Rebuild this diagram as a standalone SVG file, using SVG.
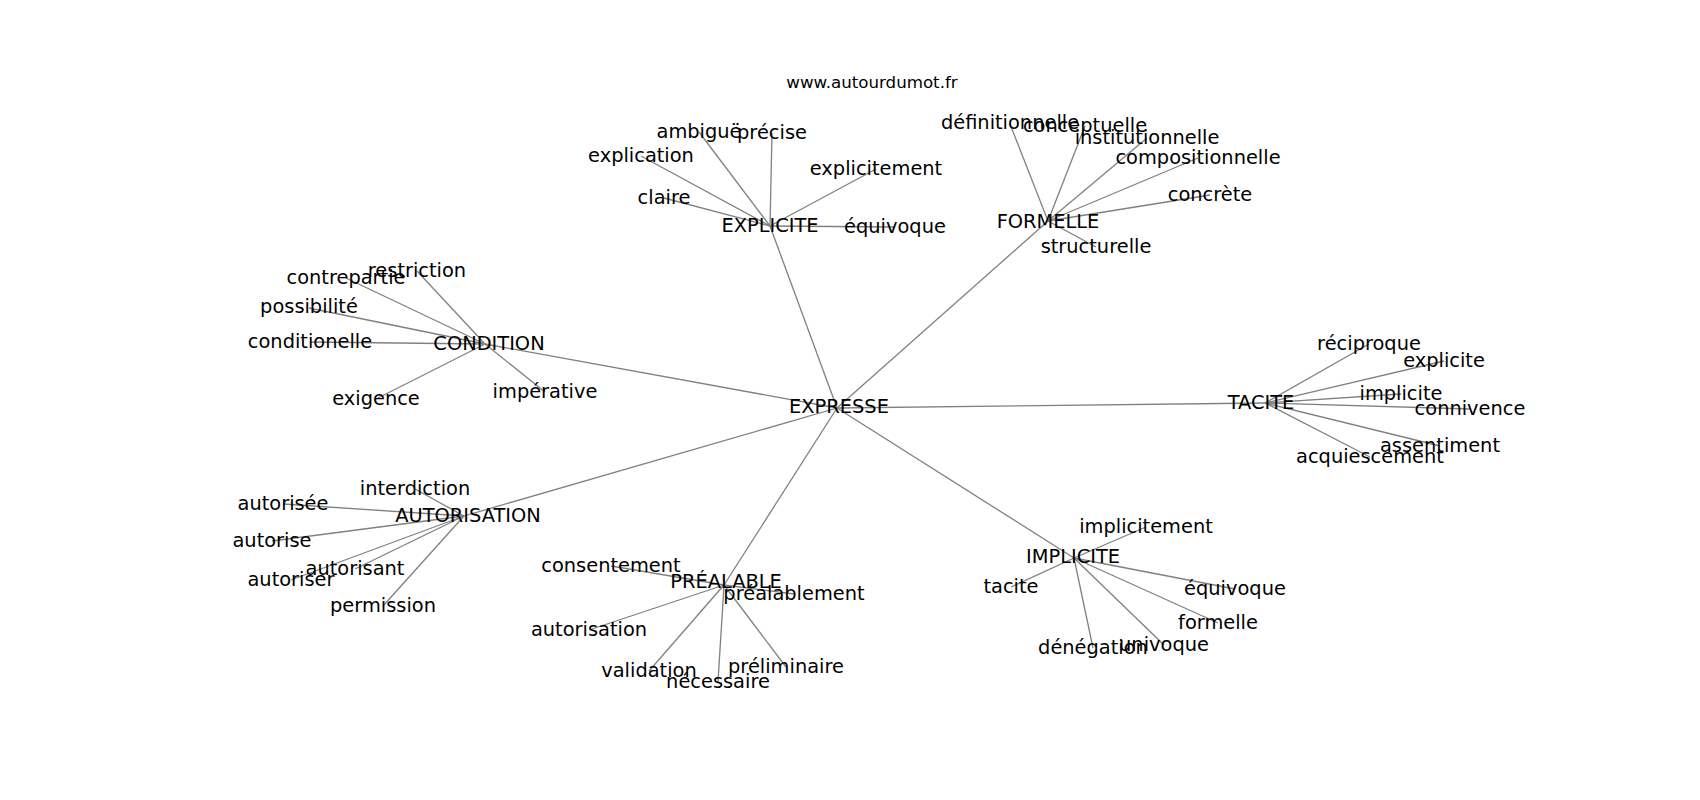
<svg xmlns="http://www.w3.org/2000/svg" width="1700" height="800" viewBox="0 0 1700 800">
<style>
.e{stroke:#808080;stroke-width:1.3;fill:none}
text{font-family:"DejaVu Sans","Liberation Sans",sans-serif;font-size:19.4px;fill:#000;text-anchor:middle}
.t{font-size:16.67px}
</style>
<rect width="1700" height="800" fill="#fff"/>
<g id="connectors">
<line class="e" x1="837" y1="408" x2="770" y2="226"/>
<line class="e" x1="837" y1="408" x2="1048" y2="221"/>
<line class="e" x1="837" y1="408" x2="485" y2="344"/>
<line class="e" x1="837" y1="408" x2="1265" y2="403"/>
<line class="e" x1="837" y1="408" x2="464" y2="516"/>
<line class="e" x1="837" y1="408" x2="724" y2="585"/>
<line class="e" x1="837" y1="408" x2="1074" y2="558"/>
<line class="e" x1="770" y1="226" x2="699" y2="132"/>
<line class="e" x1="770" y1="226" x2="772" y2="133"/>
<line class="e" x1="770" y1="226" x2="641" y2="156"/>
<line class="e" x1="770" y1="226" x2="876" y2="169"/>
<line class="e" x1="770" y1="226" x2="664" y2="198"/>
<line class="e" x1="770" y1="226" x2="895" y2="227"/>
<line class="e" x1="1048" y1="221" x2="1010" y2="124"/>
<line class="e" x1="1048" y1="221" x2="1085" y2="126"/>
<line class="e" x1="1048" y1="221" x2="1147" y2="138"/>
<line class="e" x1="1048" y1="221" x2="1198" y2="158"/>
<line class="e" x1="1048" y1="221" x2="1210" y2="195"/>
<line class="e" x1="1048" y1="221" x2="1096" y2="247"/>
<line class="e" x1="485" y1="344" x2="417" y2="271"/>
<line class="e" x1="485" y1="344" x2="346" y2="278"/>
<line class="e" x1="485" y1="344" x2="309" y2="308"/>
<line class="e" x1="485" y1="344" x2="310" y2="342"/>
<line class="e" x1="485" y1="344" x2="376" y2="399"/>
<line class="e" x1="485" y1="344" x2="545" y2="392"/>
<line class="e" x1="1265" y1="403" x2="1369" y2="344"/>
<line class="e" x1="1265" y1="403" x2="1444" y2="361"/>
<line class="e" x1="1265" y1="403" x2="1401" y2="394"/>
<line class="e" x1="1265" y1="403" x2="1470" y2="409"/>
<line class="e" x1="1265" y1="403" x2="1440" y2="446"/>
<line class="e" x1="1265" y1="403" x2="1370" y2="457"/>
<line class="e" x1="464" y1="516" x2="415" y2="489"/>
<line class="e" x1="464" y1="516" x2="283" y2="504"/>
<line class="e" x1="464" y1="516" x2="272" y2="541"/>
<line class="e" x1="464" y1="516" x2="355" y2="569"/>
<line class="e" x1="464" y1="516" x2="291" y2="580"/>
<line class="e" x1="464" y1="516" x2="383" y2="606"/>
<line class="e" x1="724" y1="585" x2="611" y2="566"/>
<line class="e" x1="724" y1="585" x2="794" y2="594"/>
<line class="e" x1="724" y1="585" x2="589" y2="630"/>
<line class="e" x1="724" y1="585" x2="649" y2="671"/>
<line class="e" x1="724" y1="585" x2="718" y2="682"/>
<line class="e" x1="724" y1="585" x2="786" y2="667"/>
<line class="e" x1="1074" y1="558" x2="1146" y2="527"/>
<line class="e" x1="1074" y1="558" x2="1011" y2="587"/>
<line class="e" x1="1074" y1="558" x2="1235" y2="589"/>
<line class="e" x1="1074" y1="558" x2="1218" y2="623"/>
<line class="e" x1="1074" y1="558" x2="1093" y2="648"/>
<line class="e" x1="1074" y1="558" x2="1164" y2="645"/>
</g>
<g id="title"><text class="t" x="872" y="88">www.autourdumot.fr</text></g>
<g id="n-expresse"><text x="839" y="413">EXPRESSE</text></g>
<g id="n-explicite"><text x="770" y="232">EXPLICITE</text></g>
<g id="n-formelle"><text x="1048" y="228">FORMELLE</text></g>
<g id="n-condition"><text x="489" y="350">CONDITION</text></g>
<g id="n-tacite"><text x="1261" y="409">TACITE</text></g>
<g id="n-autorisation"><text x="468" y="522">AUTORISATION</text></g>
<g id="n-prealable"><text x="726" y="588">PRÉALABLE</text></g>
<g id="n-implicite"><text x="1073" y="563">IMPLICITE</text></g>
<g id="n-ambigue"><text x="699" y="138">ambiguë</text></g>
<g id="n-precise"><text x="772" y="139">précise</text></g>
<g id="n-explication"><text x="641" y="162">explication</text></g>
<g id="n-explicitement"><text x="876" y="175">explicitement</text></g>
<g id="n-claire"><text x="664" y="204">claire</text></g>
<g id="n-equivoque1"><text x="895" y="233">équivoque</text></g>
<g id="n-definitionnelle"><text x="1010" y="129">définitionnelle</text></g>
<g id="n-conceptuelle"><text x="1085" y="132">conceptuelle</text></g>
<g id="n-institutionnelle"><text x="1147" y="144">institutionnelle</text></g>
<g id="n-compositionnelle"><text x="1198" y="164">compositionnelle</text></g>
<g id="n-concrete"><text x="1210" y="201">concrète</text></g>
<g id="n-structurelle"><text x="1096" y="253">structurelle</text></g>
<g id="n-restriction"><text x="417" y="277">restriction</text></g>
<g id="n-contrepartie"><text x="346" y="284">contrepartie</text></g>
<g id="n-possibilite"><text x="309" y="313">possibilité</text></g>
<g id="n-conditionelle"><text x="310" y="348">conditionelle</text></g>
<g id="n-exigence"><text x="376" y="405">exigence</text></g>
<g id="n-imperative"><text x="545" y="398">impérative</text></g>
<g id="n-reciproque"><text x="1369" y="350">réciproque</text></g>
<g id="n-explicite2"><text x="1444" y="367">explicite</text></g>
<g id="n-implicite2"><text x="1401" y="400">implicite</text></g>
<g id="n-connivence"><text x="1470" y="415">connivence</text></g>
<g id="n-assentiment"><text x="1440" y="452">assentiment</text></g>
<g id="n-acquiescement"><text x="1370" y="463">acquiescement</text></g>
<g id="n-interdiction"><text x="415" y="495">interdiction</text></g>
<g id="n-autorisee"><text x="283" y="510">autorisée</text></g>
<g id="n-autorise"><text x="272" y="547">autorise</text></g>
<g id="n-autorisant"><text x="355" y="575">autorisant</text></g>
<g id="n-autoriser"><text x="291" y="586">autoriser</text></g>
<g id="n-permission"><text x="383" y="612">permission</text></g>
<g id="n-consentement"><text x="611" y="572">consentement</text></g>
<g id="n-prealablement"><text x="794" y="600">préalablement</text></g>
<g id="n-autorisation2"><text x="589" y="636">autorisation</text></g>
<g id="n-validation"><text x="649" y="677">validation</text></g>
<g id="n-necessaire"><text x="718" y="688">nécessaire</text></g>
<g id="n-preliminaire"><text x="786" y="673">préliminaire</text></g>
<g id="n-implicitement"><text x="1146" y="533">implicitement</text></g>
<g id="n-tacite2"><text x="1011" y="593">tacite</text></g>
<g id="n-equivoque2"><text x="1235" y="595">équivoque</text></g>
<g id="n-formelle2"><text x="1218" y="629">formelle</text></g>
<g id="n-denegation"><text x="1093" y="654">dénégation</text></g>
<g id="n-univoque"><text x="1164" y="651">univoque</text></g>
</svg>
